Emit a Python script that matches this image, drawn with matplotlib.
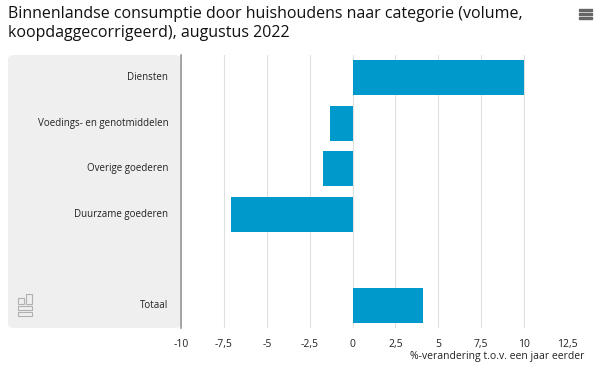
import matplotlib.pyplot as plt
from matplotlib.patches import FancyBboxPatch, Rectangle

plt.rcParams['font.family'] = ['Open Sans', 'DejaVu Sans']

# Data (blank slot between Duurzame goederen and Totaal)
categories = ["Diensten", "Voedings- en genotmiddelen", "Overige goederen",
              "Duurzame goederen", "", "Totaal"]
values = [10.0, -1.3, -1.7, -7.1, None, 4.1]
xticks = [-10, -7.5, -5, -2.5, 0, 2.5, 5, 7.5, 10, 12.5]
xticklabels = ["-10", "-7,5", "-5", "-2,5", "0", "2,5", "5", "7,5", "10", "12,5"]

fig = plt.figure(figsize=(6, 3.69), dpi=100)
W, H = 600, 369

# grey label panel
panel = FancyBboxPatch((8 / W, 1 - 328 / H), (181 - 8) / W, (328 - 55) / H,
                       boxstyle="round,pad=0,rounding_size=0.012",
                       transform=fig.transFigure, facecolor="#efefef",
                       edgecolor="none", zorder=-2)
fig.patches.append(panel)

ax = fig.add_axes([181 / W, 1 - 328 / H, (567 - 181) / W, (328 - 55) / H])
ax.set_facecolor("none")

ypos = list(range(len(categories)))
for y, v in zip(ypos, values):
    if v is not None:
        ax.barh(y, v, height=0.77, color="#0099cc", zorder=3)

ax.set_xlim(-10, 12.5)
ax.set_ylim(len(categories) - 0.5, -0.5)
ax.set_xticks(xticks)
ax.set_xticklabels(xticklabels)
ax.set_yticks([])
ax.grid(axis="x", color="#e0e0e0", linewidth=0.8, zorder=0)
ax.tick_params(axis="x", length=0, labelsize=7.5, colors="#222222", pad=8)
for s in ["top", "right", "bottom"]:
    ax.spines[s].set_visible(False)
ax.spines["left"].set_color("#999999")
ax.spines["left"].set_linewidth(1.2)

for y, c in zip(ypos, categories):
    ax.text(-10.75, y, c, ha="right", va="center", fontsize=7, color="#222222")

fig.text(584 / W, 1 - 357 / H, "%-verandering t.o.v. een jaar eerder",
         fontsize=7.5, color="#222222", ha="right", va="center")

# title
fig.text(8 / W, 1 - 14 / H, "Binnenlandse consumptie door huishoudens naar categorie (volume,",
         fontsize=11.5, color="#111111", va="center", ha="left")
fig.text(8 / W, 1 - 33 / H, "koopdaggecorrigeerd), augustus 2022",
         fontsize=11.5, color="#111111", va="center", ha="left")

# menu icon
for yy in [11, 15, 19]:
    fig.patches.append(Rectangle((579 / W, 1 - yy / H), 13 / W, 2 / H,
                                 transform=fig.transFigure, color="#666666"))

# simple logo mark
for (x0, y0, w, h) in [(18, 298, 6, 6), (26, 294, 6, 10), (18, 306, 14, 4), (18, 312, 14, 4)]:
    fig.patches.append(Rectangle((x0 / W, 1 - (y0 + h) / H), w / W, h / H,
                                 transform=fig.transFigure, fill=False,
                                 edgecolor="#b0b0b0", linewidth=0.8, zorder=-1))

fig.savefig("out.png", dpi=100)
